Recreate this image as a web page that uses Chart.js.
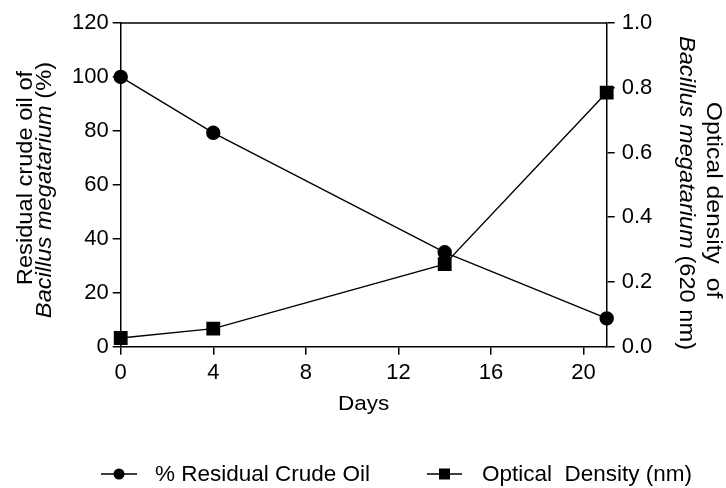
<!DOCTYPE html>
<html>
<head>
<meta charset="utf-8">
<script src="https://cdn.jsdelivr.net/npm/chart.js@4.4.1/dist/chart.umd.min.js"></script>
<style>
  html, body { margin: 0; padding: 0; background: #fff; }
  #wrap { width: 726px; height: 488px; }
</style>
</head>
<body>
<div id="wrap"><canvas id="chart" width="726" height="488"></canvas></div>
<script>
const days = [0, 4, 14, 21];
const residualOil = [100, 79.3, 35, 10.5];
const opticalDensity = [0.027, 0.056, 0.255, 0.785];
const dayTicks = [0, 4, 8, 12, 16, 20];
const oilTicks = [0, 20, 40, 60, 80, 100, 120];
const odTicks = [0, 0.2, 0.4, 0.6, 0.8, 1.0];

const FONT = "'Liberation Sans', Arial, Helvetica, sans-serif";
const INK = "#000";

function setTicks(values) {
  return (scale) => {
    scale.ticks = values.map((v) => ({ value: v }));
  };
}

// draws one line of mixed roman/italic text centred on the origin,
// a little wider than normal like the original figure's lettering
function drawRun(ctx, parts, size, stretch = 1.1) {
  ctx.save();
  ctx.scale(stretch, 1);
  let total = 0;
  parts.forEach((p) => {
    ctx.font = `${p.italic ? "italic " : ""}${size}px ${FONT}`;
    total += ctx.measureText(p.text).width;
  });
  let x = -total / 2;
  parts.forEach((p) => {
    ctx.font = `${p.italic ? "italic " : ""}${size}px ${FONT}`;
    ctx.fillText(p.text, x, 0);
    x += ctx.measureText(p.text).width;
  });
  ctx.restore();
}

function rotatedLine(ctx, x, y, angle, parts, size, stretch) {
  ctx.save();
  ctx.translate(x, y);
  ctx.rotate(angle);
  drawRun(ctx, parts, size, stretch);
  ctx.restore();
}

const decorations = {
  id: "decorations",
  afterDraw(chart) {
    const { ctx, chartArea: a } = chart;
    ctx.save();
    // top edge of the frame
    ctx.strokeStyle = INK;
    ctx.lineWidth = 1.5;
    ctx.beginPath();
    ctx.moveTo(a.left, a.top);
    ctx.lineTo(a.right, a.top);
    ctx.stroke();

    ctx.fillStyle = INK;
    ctx.textBaseline = "middle";
    ctx.textAlign = "left";

    // axis titles
    rotatedLine(ctx, 26, 178, -Math.PI / 2, [{ text: "Residual crude oil of" }], 21.5);
    rotatedLine(ctx, 45.5, 190, -Math.PI / 2,
      [{ text: "Bacillus megatarium", italic: true }, { text: " (%)" }], 21.5);
    rotatedLine(ctx, 713, 200, Math.PI / 2, [{ text: "Optical density  of" }], 21.5, 1.15);
    rotatedLine(ctx, 686, 193, Math.PI / 2,
      [{ text: "Bacillus megatarium", italic: true }, { text: " (620 nm)" }], 21.5);

    rotatedLine(ctx, (a.left + a.right) / 2, 404, 0, [{ text: "Days" }], 20.5);

    // legend
    const ly = 474;
    ctx.lineWidth = 1.5;
    ctx.beginPath();
    ctx.moveTo(101, ly);
    ctx.lineTo(137, ly);
    ctx.moveTo(427, ly);
    ctx.lineTo(462, ly);
    ctx.stroke();
    ctx.beginPath();
    ctx.arc(119, ly, 5.5, 0, Math.PI * 2);
    ctx.fill();
    ctx.fillRect(444.5 - 5.5, ly - 5.5, 11, 11);
    ctx.font = `22.5px ${FONT}`;
    ctx.textAlign = "left";
    ctx.fillText("% Residual Crude Oil", 155, ly + 1);
    ctx.fillText("Optical  Density (nm)", 482, ly + 1);
    ctx.restore();
  },
};

const axisGrid = { drawOnChartArea: false, drawTicks: true, tickLength: 8, color: INK, lineWidth: 1.5 };
const axisBorder = { display: true, color: INK, width: 1.5 };
const tickFont = { family: FONT, size: 22 };

new Chart(document.getElementById("chart"), {
  type: "line",
  data: {
    datasets: [
      {
        label: "% Residual Crude Oil",
        data: days.map((d, i) => ({ x: d, y: residualOil[i] })),
        yAxisID: "y",
        borderColor: INK,
        backgroundColor: INK,
        borderWidth: 1.4,
        pointStyle: "circle",
        pointRadius: 6.5,
        pointHoverRadius: 6.5,
        clip: false,
      },
      {
        label: "Optical  Density (nm)",
        data: days.map((d, i) => ({ x: d, y: opticalDensity[i] })),
        yAxisID: "y1",
        borderColor: INK,
        backgroundColor: INK,
        borderWidth: 1.4,
        pointStyle: "rect",
        pointRadius: 8.8,
        pointHoverRadius: 8.8,
        clip: false,
      },
    ],
  },
  options: {
    responsive: false,
    animation: false,
    events: [],
    layout: { padding: { top: 23, left: 0, right: 0, bottom: 0 } },
    plugins: { legend: { display: false }, tooltip: { enabled: false } },
    scales: {
      x: {
        type: "linear",
        min: 0,
        max: 21,
        afterBuildTicks: setTicks(dayTicks),
        afterFit(scale) { scale.height = 141.3; },
        grid: axisGrid,
        border: axisBorder,
        ticks: { color: INK, font: tickFont, padding: 5, maxRotation: 0 },
      },
      y: {
        position: "left",
        min: 0,
        max: 120,
        afterBuildTicks: setTicks(oilTicks),
        afterFit(scale) { scale.width = 120.7; },
        grid: axisGrid,
        border: axisBorder,
        ticks: { color: INK, font: tickFont, padding: 4 },
      },
      y1: {
        position: "right",
        min: 0,
        max: 1,
        afterBuildTicks: setTicks(odTicks),
        afterFit(scale) { scale.width = 119.3; },
        grid: axisGrid,
        border: axisBorder,
        ticks: { color: INK, font: tickFont, padding: 7, callback: (v) => Number(v).toFixed(1) },
      },
    },
  },
  plugins: [decorations],
});
</script>
</body>
</html>
